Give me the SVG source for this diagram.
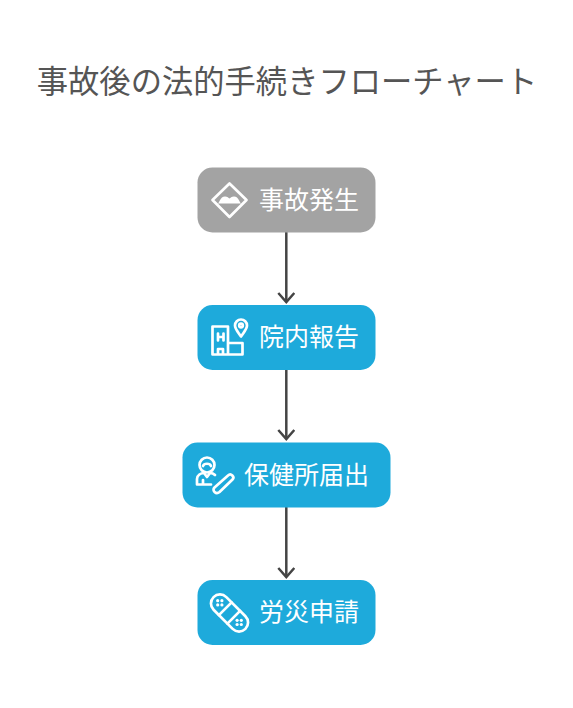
<svg xmlns="http://www.w3.org/2000/svg" width="573" height="708" viewBox="0 0 573 708">
<style>
.t{font-family:"Noto Sans CJK JP","Noto Sans",sans-serif}
.l{font-size:25px;fill:#fff;font-weight:400}
.i{fill:none;stroke:#fff;stroke-width:2.700;stroke-linecap:round;stroke-linejoin:round}
.d{fill:#fff}
.c{fill:none;stroke:#444;stroke-width:2.500}
</style>
<defs>
<marker id="a" markerUnits="userSpaceOnUse" markerWidth="20" markerHeight="18" refX="10" refY="9" orient="auto">
<path d="M1 1L10 9L1 17" fill="none" stroke="#444" stroke-width="2.500"/>
</marker>
</defs>
<rect width="573" height="708" fill="#fff"/>
<text class="t" x="287" y="93" text-anchor="middle" font-size="31.300" font-weight="400" fill="#555">事故後の法的手続きフローチャート</text>
<g id="connectors">
<path class="c" d="M286.300 232V302" marker-end="url(#a)"/>
<path class="c" d="M286.300 370V439" marker-end="url(#a)"/>
<path class="c" d="M286.300 507V577" marker-end="url(#a)"/>
</g>
<g id="node1">
<rect x="197.500" y="167.500" width="178" height="65" rx="15" fill="#a3a3a3"/>
<path class="i" d="M229.500 183.500L246.500 200L229.500 217L212.500 200Z"/>
<path class="d" d="M217.500 203.500C219.500 203.500 220 196.500 225 196.500C227.500 196.500 228.500 198 229.500 198.500C230.500 198 231.500 196.500 234 196.500C239 196.500 239.500 203.500 241.500 203.500Z"/>
<text class="t l" x="259" y="208.500">事故発生</text>
</g>
<g id="node2">
<rect x="197.500" y="305" width="178" height="65" rx="15" fill="#1eaadb"/>
<path class="i" d="M212.500 354.500V326.500H228V354.500ZM228 343H242.500V354.500H228M218 354.500V349H223V354.500M218 333.500V340.500M223.500 333.500V340.500M218 337H223.500"/>
<path class="i" d="M241 336.500C238 332 235 329 235 325.500A6 6 0 0 1 247 325.500C247 329 244 332 241 336.500Z"/>
<circle class="i" cx="241" cy="325.500" r="1.800"/>
<text class="t l" x="259" y="346">院内報告</text>
</g>
<g id="node3">
<rect x="182.500" y="442.500" width="208" height="65" rx="15" fill="#1eaadb"/>
<circle class="i" cx="207" cy="465" r="7.500"/>
<path class="i" d="M203 466C204 463 210 463 211 466M197 484.500V479C197 475 201 473 204 473L207 477L210 473C212 473 214 474 215 475M197 484.500H211M203 484.500V480"/>
<path class="i" d="M214.500 487.500L228 475.500C231 472.500 235 477 232.500 479.500L219.500 492C216 495 211.500 490.500 214.500 487.500Z"/>
<text class="t l" x="244" y="484">保健所届出</text>
</g>
<g id="node4">
<rect x="197.500" y="580" width="178" height="65" rx="15" fill="#1eaadb"/>
<g transform="rotate(45 229.500 613)">
<rect class="i" x="207" y="604" width="45" height="18" rx="9"/>
<path class="i" d="M223.500 604V622M235.500 604V622"/>
</g>
<g class="d"><circle cx="217.700" cy="600.700" r="1.600"/><circle cx="221.900" cy="600.700" r="1.600"/><circle cx="217.700" cy="604.900" r="1.600"/><circle cx="221.900" cy="604.900" r="1.600"/><circle cx="237.100" cy="620.300" r="1.600"/><circle cx="241.300" cy="620.300" r="1.600"/><circle cx="237.100" cy="624.500" r="1.600"/><circle cx="241.300" cy="624.500" r="1.600"/></g>
<text class="t l" x="259" y="621">労災申請</text>
</g>
</svg>
